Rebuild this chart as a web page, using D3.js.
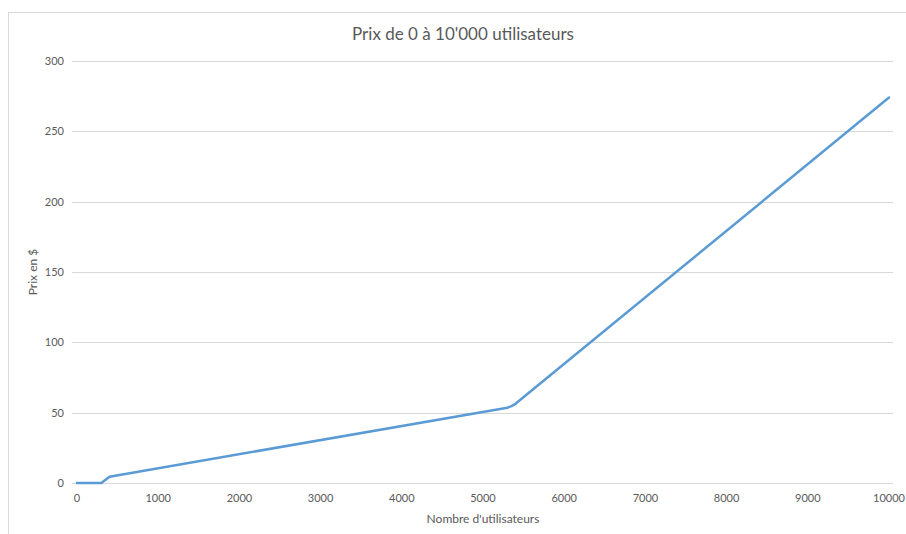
<!DOCTYPE html>
<html>
<head>
<meta charset="utf-8">
<script src="https://cdn.jsdelivr.net/npm/d3@7"></script>
<style>
  html, body { margin: 0; padding: 0; background: #fff; }
  svg { display: block; }
  text { font-family: Lato, "Open Sans", "Liberation Sans", sans-serif; }
</style>
</head>
<body>
<svg id="chart" width="906" height="534"></svg>
<script>
// Price curve: users -> price in dollars
const users  = [0, 300, 400, 5300, 5350, 5400, 10000];
const prices = [0, 0, 4.5, 53.5, 54.6, 56.3, 274];

const xTicks = [0, 1000, 2000, 3000, 4000, 5000, 6000, 7000, 8000, 9000, 10000];
const yTicks = [0, 50, 100, 150, 200, 250, 300];

const title  = "Prix de 0 à 10'000 utilisateurs";
const xTitle = "Nombre d'utilisateurs";
const yTitle = "Prix en $";

const svg = d3.select("#chart");
const W = 906, H = 534;

// chart frame
svg.append("rect")
  .attr("x", 8.5).attr("y", 12.5)
  .attr("width", 1000).attr("height", 1000)
  .attr("fill", "#fff").attr("stroke", "#d9d9d9").attr("stroke-width", 1);

const x = d3.scaleLinear().domain([0, 10000]).range([77, 889]);
const y = d3.scaleLinear().domain([0, 300]).range([483, 61]);

// horizontal gridlines
svg.append("g").selectAll("line")
  .data(yTicks)
  .join("line")
  .attr("x1", 72).attr("x2", 893)
  .attr("y1", d => Math.round(y(d)) + 0.5)
  .attr("y2", d => Math.round(y(d)) + 0.5)
  .attr("stroke", "#d9d9d9").attr("stroke-width", 1);

// y tick labels
svg.append("g").selectAll("text")
  .data(yTicks)
  .join("text")
  .attr("x", 64)
  .attr("y", d => y(d))
  .attr("dy", "0.35em")
  .attr("text-anchor", "end")
  .attr("font-size", 11)
  .attr("fill", "#595959")
  .text(d => d);

// x tick labels
svg.append("g").selectAll("text")
  .data(xTicks)
  .join("text")
  .attr("x", d => x(d))
  .attr("y", 502)
  .attr("text-anchor", "middle")
  .attr("font-size", 11)
  .attr("fill", "#595959")
  .text(d => d);

// price line
const pts = users.map((u, i) => [u, prices[i]]);
svg.append("path")
  .datum(pts)
  .attr("fill", "none")
  .attr("stroke", "#5b9bd5")
  .attr("stroke-width", 2.5)
  .attr("stroke-linejoin", "round")
  .attr("stroke-linecap", "round")
  .attr("d", d3.line().x(d => x(d[0])).y(d => y(d[1])));

// title
svg.append("text")
  .attr("x", 463).attr("y", 40)
  .attr("text-anchor", "middle")
  .attr("font-size", 17)
  .attr("fill", "#595959")
  .text(title);

// axis titles
svg.append("text")
  .attr("x", 483).attr("y", 523)
  .attr("text-anchor", "middle")
  .attr("font-size", 12)
  .attr("fill", "#595959")
  .text(xTitle);

svg.append("text")
  .attr("transform", "translate(37,272) rotate(-90)")
  .attr("text-anchor", "middle")
  .attr("font-size", 12)
  .attr("fill", "#595959")
  .text(yTitle);
</script>
</body>
</html>
